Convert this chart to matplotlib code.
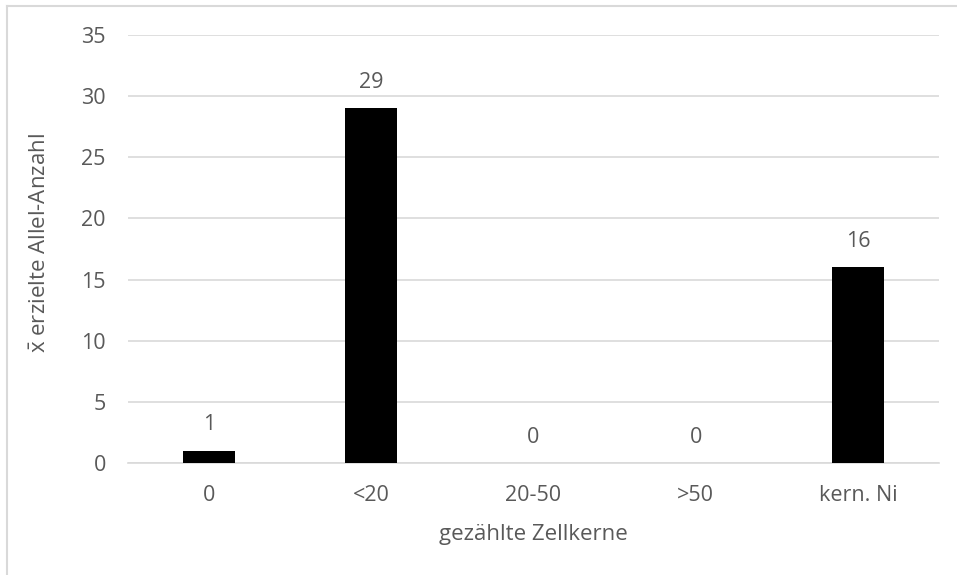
import matplotlib
matplotlib.use("Agg")
import matplotlib.pyplot as plt
from matplotlib.lines import Line2D

categories = ["0", "<20", "20-50", ">50", "kern. Ni"]
values = [1, 29, 0, 0, 16]
y_ticks = [0, 5, 10, 15, 20, 25, 30, 35]

plt.rcParams["font.family"] = ["Open Sans", "DejaVu Sans"]
plt.rcParams["mathtext.fontset"] = "custom"
plt.rcParams["mathtext.rm"] = "Open Sans"
text_color = "#595959"
grid_color = "#d9d9d9"
fs = 15.5
fs_title = 16

fig = plt.figure(figsize=(9.57, 5.75), dpi=100)
W, H = 957, 575
ax = fig.add_axes([128 / W, 1 - 463 / H, (939 - 128) / W, (463 - 35) / H])

x = range(len(categories))
ax.bar(x, values, width=0.32, color="black", zorder=3)
for xi, v in zip(x, values):
    ax.annotate(f"{v}", (xi, v), xytext=(0, 11), textcoords="offset points",
                ha="center", va="bottom", fontsize=fs, color=text_color)

ax.set_xlim(-0.5, len(categories) - 0.5)
ax.set_ylim(0, 35)
ax.set_yticks(y_ticks)
ax.set_xticks(list(x))
ax.set_xticklabels(categories)
ax.tick_params(axis="both", length=0, labelsize=fs, labelcolor=text_color)
ax.tick_params(axis="x", pad=16)
ax.tick_params(axis="y", pad=16)
ax.grid(axis="y", color=grid_color, linewidth=1.2, zorder=0)
for side in ["top", "right", "left"]:
    ax.spines[side].set_visible(False)
ax.spines["bottom"].set_color(grid_color)
ax.spines["bottom"].set_linewidth(1.2)
ax.spines["bottom"].set_zorder(1)

ax.set_xlabel("gezählte Zellkerne", fontsize=fs_title, color=text_color, labelpad=13)
ax.set_ylabel(r"$\bar{\mathrm{x}}$ erzielte Allel-Anzahl", fontsize=fs_title,
              color=text_color, labelpad=12)
ax.yaxis.set_label_coords(-0.095, 0.515)

# chart frame
fig.add_artist(Line2D([7.5 / W, 1], [1 - 5.5 / H, 1 - 5.5 / H], color=grid_color, linewidth=1.5))
fig.add_artist(Line2D([7.5 / W, 7.5 / W], [0, 1 - 5.5 / H], color=grid_color, linewidth=1.5))

fig.savefig("out.png", dpi=100)
